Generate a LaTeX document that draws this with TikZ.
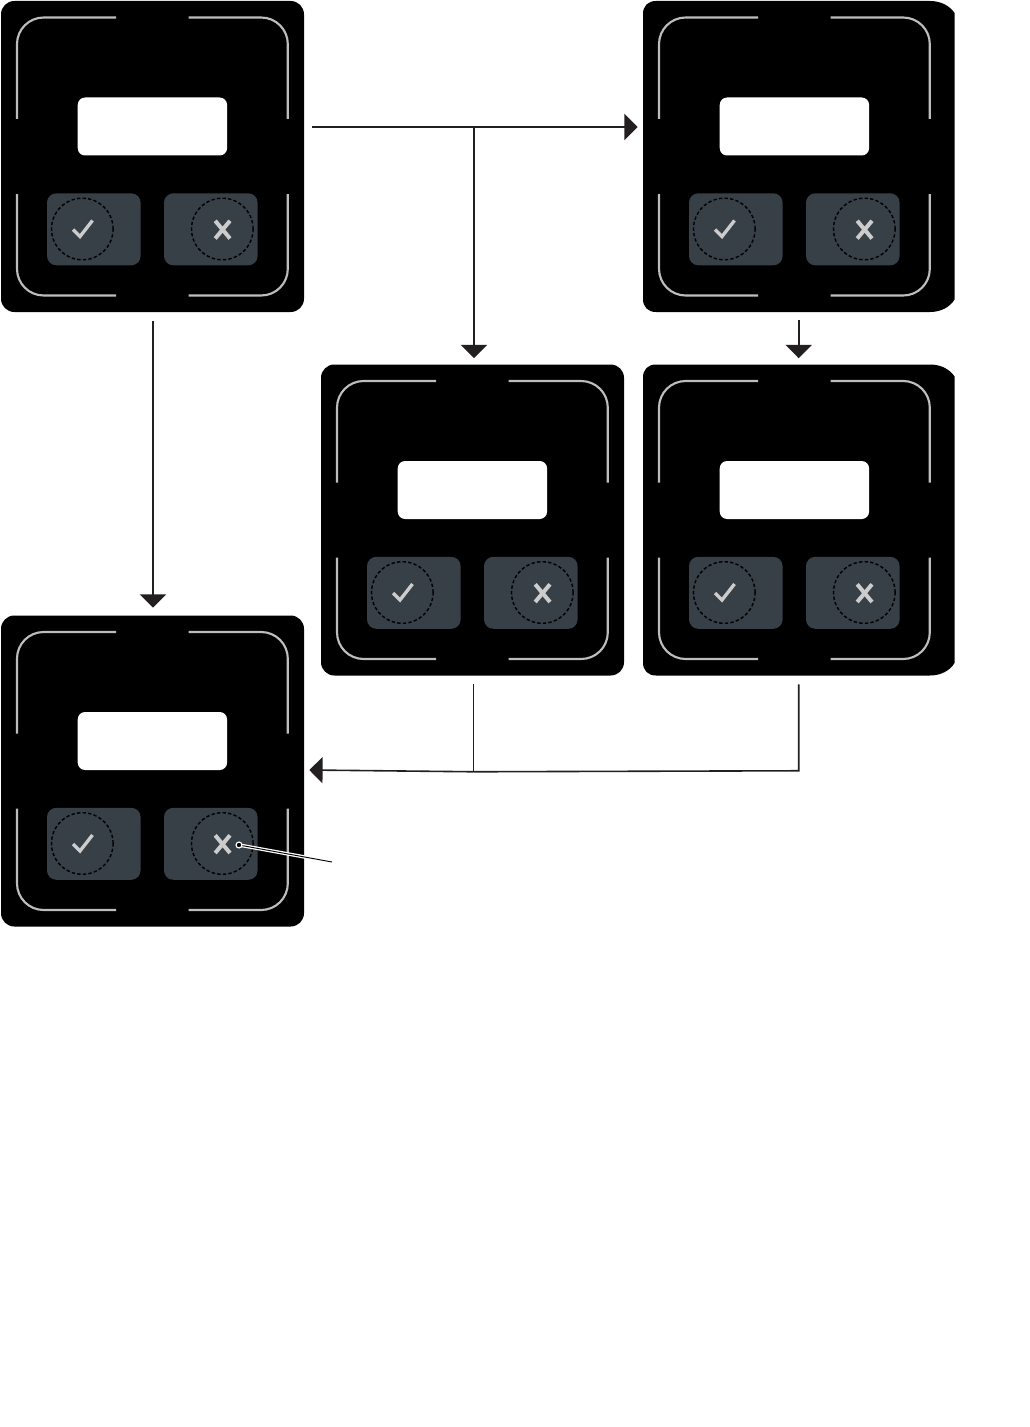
\documentclass[tikz,border=0pt]{standalone}
\usetikzlibrary{arrows.meta,calc}
\definecolor{btn}{HTML}{373F47}
\definecolor{frameln}{HTML}{BDBDBD}
\definecolor{glyph}{HTML}{CCCCCC}
\definecolor{conn}{HTML}{231F20}
\tikzset{
  panelbox/.style={fill=black,draw=none,rectangle,rounded corners=10pt,inner sep=0pt,minimum width=227.25pt,minimum height=233.25pt},
  anchorbox/.style={rectangle,draw=none,fill=none,inner sep=0pt,minimum width=227.25pt,minimum height=233.25pt},
  whitebox/.style={fill=white,draw=none,rectangle,rounded corners=5.5pt,inner sep=0pt,minimum width=112pt,minimum height=43.5pt},
  btnbox/.style={fill=btn,draw=none,rectangle,rounded corners=7pt,inner sep=0pt,minimum width=70.2pt,minimum height=54pt},
  dashring/.style={draw=black,line width=1.05pt,dash pattern=on 2.5pt off 1.7pt,fill=none,circle,inner sep=0pt,minimum size=46.2pt},
  frameline/.style={draw=frameln,line width=1.6pt,rounded corners=20pt},
  glyphline/.style={draw=glyph,line width=2.5pt},
  xline/.style={draw=glyph,line width=3pt},
  link/.style={draw=conn,line width=1.2pt},
  arrowed/.style={link,-{Triangle[length=10pt,width=19.5pt]}},
}
\newcommand{\panelinner}[1]{%
  \node[whitebox] (#1w) at (152.4,126.5) {};
  \node[btnbox] (#1ok) at (93.8,229.3) {};
  \node[btnbox] (#1no) at (210.8,229.3) {};
  \node[dashring] (#1okr) at (82.3,229) {};
  \node[dashring] (#1nor) at (222.3,229) {};
  \draw[glyphline] (73,229.5) -- (80,236.5) -- (92.5,220.5);
  \draw[xline] (215.2,220.8) -- (230,238.5) (230,220.8) -- (215.2,238.5);
  \draw[frameline] (17,119) -- (17,17.5) -- (116,17.5);
  \draw[frameline] (188.7,17.5) -- (287.8,17.5) -- (287.8,119);
  \draw[frameline] (17,194) -- (17,295.5) -- (116,295.5);
  \draw[frameline] (188.7,295.5) -- (287.8,295.5) -- (287.8,194);
}
\newcommand{\plainpanel}[3]{%
  \begin{scope}[shift={(#2,#3)}]
    \node[panelbox] (#1) at (152.5,156.5) {};
    \panelinner{#1}
  \end{scope}}
\newcommand{\widepanel}[3]{%
  \begin{scope}[shift={(#2,#3)}]
    \fill[black] (1,14) .. controls (1,6) and (6,1) .. (14,1) -- (288,1)
      .. controls (299,1) and (308,6) .. (312.5,13) -- (312.5,299.5)
      .. controls (308,307) and (299,312) .. (288,312) -- (14,312)
      .. controls (6,312) and (1,307) .. (1,299) -- cycle;
    \node[anchorbox] (#1) at (152.5,156.5) {};
    \panelinner{#1}
  \end{scope}}
\begin{document}
\begin{tikzpicture}[x=.75pt,y=-.75pt]
\useasboundingbox (0,0) rectangle (1030,1427);
\fill[white] (0,0) rectangle (1030,1427);
\plainpanel{A}{0}{0}
\widepanel{B}{642}{0}
\plainpanel{C}{320}{363.5}
\widepanel{D}{642}{363.5}
\plainpanel{E}{0}{614.5}
% A -> E
\coordinate (aout) at (A.south);
\draw[arrowed] ($(aout)+(.5,8.5)$) -- ($(E.north)+(.5,-7.5)$);
% A -> B with branch to C
\coordinate (aright) at ($(A.east)+(8,-29.5)$);
\coordinate (bleft) at ($(B.west)+(-5,-29.5)$);
\coordinate (fork) at ($(C.north)+(1.5,-236)$);
\draw[arrowed] (aright) -- (bleft);
\draw[arrowed] (fork) -- ($(C.north)+(1.5,-6)$);
% B -> D
\draw[arrowed] ($(B.south)+(4.2,7.5)$) -- ($(D.north)+(4.2,-6)$);
% C, D -> E
\coordinate (join) at ($(C.south)+(1,96)$);
\coordinate (dturn) at ($(D.south)+(4.2,95)$);
\coordinate (etip) at ($(E.east)+(5,-1)$);
\draw[link] ($(C.south)+(1,8.5)$) -- (join);
\draw[link] ($(D.south)+(4.2,8.5)$) -- (dturn) -- (join);
\draw[arrowed] (join) -- (etip);
% callout
\coordinate (calltail) at ($(Enor)+(109.7,18.5)$);
\coordinate (hal) at ($(Enor)+(88,14.5)$);
\coordinate (callhead) at ($(Enor)+(16.7,1.5)$);
\draw[white,line width=2.6pt] (callhead) -- (hal);
\draw[black,line width=.7pt] (callhead) -- (calltail);
\node[circle,fill=black,draw=white,line width=.9pt,inner sep=0pt,minimum size=4.4pt] (calldot) at (callhead) {};
\end{tikzpicture}
\end{document}
